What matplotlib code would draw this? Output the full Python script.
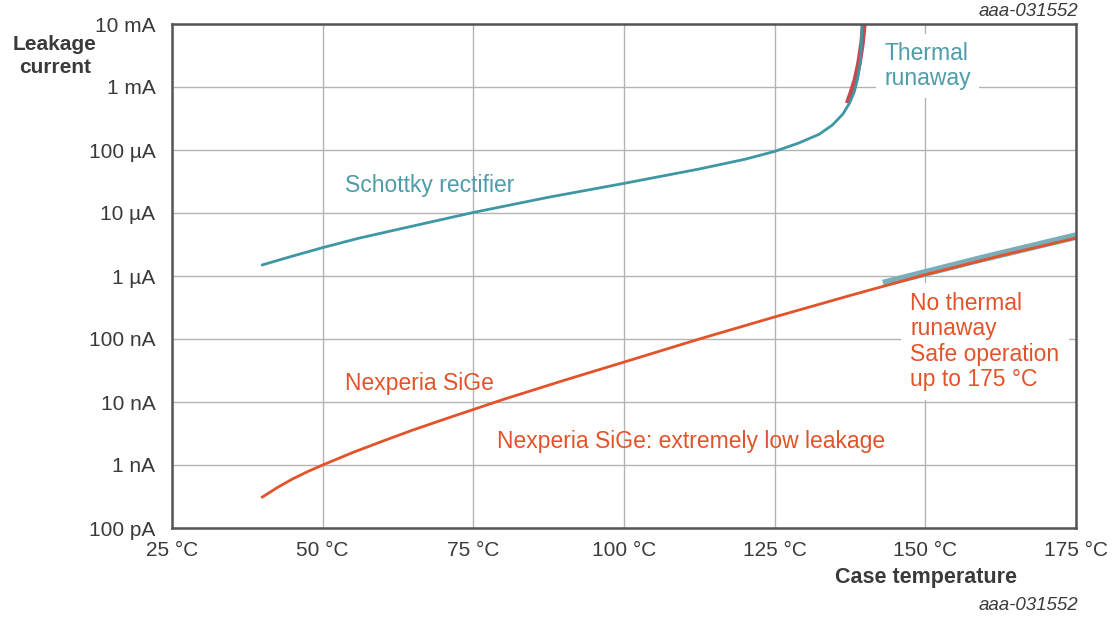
import matplotlib
matplotlib.use("Agg")
import matplotlib.pyplot as plt
from matplotlib.ticker import FixedLocator, NullLocator

plt.rcParams['font.family'] = ['Liberation Sans', 'DejaVu Sans']

# ---- data ----
x_ticks = [25, 50, 75, 100, 125, 150, 175]
x_tick_labels = ["25 \u00b0C", "50 \u00b0C", "75 \u00b0C", "100 \u00b0C", "125 \u00b0C", "150 \u00b0C", "175 \u00b0C"]
y_ticks = [1e-10, 1e-9, 1e-8, 1e-7, 1e-6, 1e-5, 1e-4, 1e-3, 1e-2]
y_tick_labels = ["100 pA", "1 nA", "10 nA", "100 nA", "1 \u00b5A", "10 \u00b5A", "100 \u00b5A", "1 mA", "10 mA"]

schottky_temp = [40, 45, 50, 56, 62.5, 75, 87.5, 100, 112.5, 120, 125, 129, 132.4, 134.6,
                 136.3, 137.4, 138.2, 138.8, 139.2, 139.4, 139.5]
schottky_current = [1.5e-6, 2.07e-6, 2.82e-6, 3.98e-6, 5.5e-6, 1.02e-5, 1.78e-5, 2.95e-5,
                    5.0e-5, 7.1e-5, 9.5e-5, 1.29e-4, 1.78e-4, 2.5e-4, 3.7e-4, 5.5e-4,
                    8.3e-4, 1.41e-3, 2.5e-3, 5.0e-3, 1.0e-2]

runaway_temp = [137.1, 137.7, 138.4, 139.0, 139.5, 139.8]
runaway_current = [5.5e-4, 8e-4, 1.3e-3, 2.4e-3, 5e-3, 1e-2]

sige_temp = [40, 42.5, 45, 47.5, 50, 55, 60, 65, 70, 75, 80, 90, 100, 112.5, 125, 137.5,
             150, 162.5, 175]
sige_current = [3.1e-10, 4.4e-10, 6.0e-10, 7.85e-10, 1.0e-9, 1.58e-9, 2.4e-9, 3.6e-9,
                5.25e-9, 7.6e-9, 1.1e-8, 2.2e-8, 4.3e-8, 1.0e-7, 2.24e-7, 4.9e-7,
                1.05e-6, 2.1e-6, 4.0e-6]

safe_temp = [143, 159, 175]
safe_current = [7.6e-7, 1.85e-6, 4.3e-6]

# ---- style ----
teal = "#3f97a3"
teal_text = "#4d9ca8"
teal_band = "#79adb9"
orange = "#e2532a"
red = "#c9474f"
tick_col = "#3a3a3a"
spine_col = "#555555"
grid_col = "#b3b3b3"

fig = plt.figure(figsize=(11.14, 6.17), dpi=100)
ax = fig.add_axes([172 / 1114, 1 - 528 / 617, (1076 - 172) / 1114, (528 - 24) / 617])

ax.set_yscale('log')
ax.set_xlim(25, 175)
ax.set_ylim(1e-10, 1e-2)

ax.xaxis.set_major_locator(FixedLocator(x_ticks))
ax.set_xticklabels(x_tick_labels)
ax.yaxis.set_major_locator(FixedLocator(y_ticks))
ax.yaxis.set_minor_locator(NullLocator())
ax.set_yticklabels(y_tick_labels)
ax.tick_params(axis='both', length=0, labelsize=15, colors=tick_col)
ax.tick_params(axis='x', pad=9)
ax.tick_params(axis='y', pad=12)

ax.grid(True, color=grid_col, linewidth=1.0, zorder=0)
ax.set_axisbelow(True)
for s in ax.spines.values():
    s.set_color(spine_col)
    s.set_linewidth(1.8)
    s.set_zorder(6)

# curves
ax.plot(runaway_temp, runaway_current, color=red, linewidth=4.0, solid_capstyle='butt', zorder=3)
ax.plot(schottky_temp, schottky_current, color=teal, linewidth=2.0, zorder=4)
ax.plot(safe_temp, safe_current, color=teal_band, linewidth=5.5, solid_capstyle='butt', zorder=3)
ax.plot(sige_temp, sige_current, color=orange, linewidth=2.0, zorder=4)

# annotations
ax.text(53.7, 10 ** -4.57, "Schottky rectifier", color=teal_text, fontsize=16.5,
        ha='left', va='center', zorder=5)
ax.text(53.7, 10 ** -7.71, "Nexperia SiGe", color=orange, fontsize=16.5,
        ha='left', va='center', zorder=5)
ax.text(78.9, 10 ** -8.62, "Nexperia SiGe: extremely low leakage", color=orange, fontsize=16.5,
        ha='left', va='center', zorder=5)
ax.text(143.2, 10 ** -2.67, "Thermal\nrunaway", color=teal_text, fontsize=16.5,
        ha='left', va='center', linespacing=1.12, zorder=5,
        bbox=dict(boxstyle='square,pad=0.35', facecolor='white', edgecolor='none'))
ax.text(147.5, 10 ** -7.04, "No thermal\nrunaway\nSafe operation\nup to 175 \u00b0C", color=orange,
        fontsize=16.5, ha='left', va='center', linespacing=1.12, zorder=2.5,
        bbox=dict(boxstyle='square,pad=0.4', facecolor='white', edgecolor='none'))

# axis titles
fig.text(55 / 1114, 1 - 56 / 617, "Leakage\ncurrent", fontsize=15, fontweight='bold',
         color=tick_col, ha='center', va='center', linespacing=1.3)
fig.text(926 / 1114, 1 - 577 / 617, "Case temperature", fontsize=15.5, fontweight='bold',
         color=tick_col, ha='center', va='center')
fig.text(1078 / 1114, 1 - 11 / 617, "aaa-031552", fontsize=13.5, style='italic',
         color=tick_col, ha='right', va='center')
fig.text(1078 / 1114, 1 - 605 / 617, "aaa-031552", fontsize=13.5, style='italic',
         color=tick_col, ha='right', va='center')

fig.savefig("out.png", dpi=100, facecolor='white')
